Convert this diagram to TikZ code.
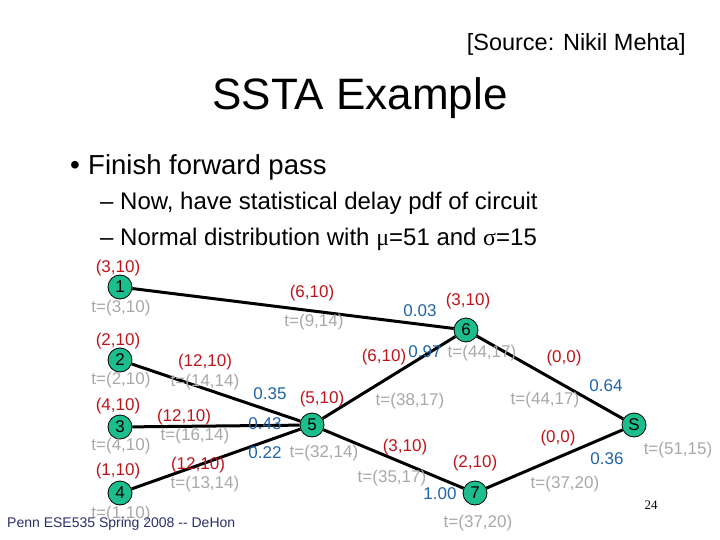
\documentclass[tikz,border=0pt]{standalone}
\usepackage{fontspec}
\setmainfont{Liberation Sans}
\newfontfamily\pagenumfont{Liberation Serif}
\usetikzlibrary{positioning,backgrounds}
\definecolor{sstagreen}{HTML}{1DBE8E}
\definecolor{sstared}{HTML}{C0141C}
\definecolor{sstablue}{HTML}{1F64A8}
\definecolor{sstagray}{HTML}{A8A8A8}
\definecolor{sstanavy}{HTML}{2B2F6B}
\newcommand{\fsz}[1]{\fontsize{#1}{#1}\selectfont}

\begin{document}
\begin{tikzpicture}[
  x=1pt, y=-1pt,
  gate/.style={circle, draw=black, thick, fill=sstagreen, minimum size=24pt,
               inner sep=0pt, font=\fsz{17}},
  delay/.style={text=sstared, font=\fsz{17}, inner sep=0pt},
  arrival/.style={text=sstagray, font=\fsz{17}, inner sep=0pt},
  prob/.style={text=sstablue, font=\fsz{17}, inner sep=0pt},
  wire/.style={line width=3pt, draw=black},
  heading/.style={anchor=base west, inner sep=0pt}
]
\useasboundingbox (0,0) rectangle (720,540);

% slide header
\node[inner sep=0pt, anchor=base east, font=\fsz{23.5}] (source) at (686,51) {[Source: Nikil Mehta]};
\node[inner sep=0pt, anchor=base, font=\fsz{44}] (title) at (360,110) {SSTA Example};
\node[heading, font=\fsz{28}] (bullet) at (70,175) {\textbullet};
\node[heading, font=\fsz{27.5}] (pass) at (88,175) {Finish forward pass};
\node[heading, font=\fsz{24}] (dashA) at (100,210) {–};
\node[heading, font=\fsz{24}] (pdf) at (120,210) {Now, have statistical delay pdf of circuit};
\node[heading, font=\fsz{24}] (dashB) at (100,245) {–};
\node[heading, font=\fsz{24}] (normal) at (120,245) {Normal distribution with {\pagenumfont μ}=51 and {\pagenumfont σ}=15};

% gates
\node[gate] (g1) at (120,287) {1};
\node[gate] (g2) at (120,360) {2};
\node[gate] (g3) at (120,427) {3};
\node[gate] (g4) at (120,493) {4};
\node[gate] (g5) at (312,425) {5};
\node[gate] (g6) at (466,330) {6};
\node[gate] (g7) at (475,493) {7};
\node[gate] (gs) at (634,425) {S};

\begin{pgfonlayer}{background}
\draw[wire] (g1) -- (g6);
\draw[wire] (g2) -- (g5);
\draw[wire] (g3) -- (g5);
\draw[wire] (g4) -- (g5);
\draw[wire] (g5) -- (g6);
\draw[wire] (g5) -- (g7);
\draw[wire] (g6) -- (gs);
\draw[wire] (g7) -- (gs);
\end{pgfonlayer}

% gate delays and arrival times
\node[delay] (d1) at (118,268) {(3,10)};
\node[arrival] (t1) at (121,308) {t=(3,10)};
\node[delay] (d2) at (118,341) {(2,10)};
\node[arrival] (t2) at (121,380) {t=(2,10)};
\node[delay] (d3) at (118,406) {(4,10)};
\node[arrival] (t3) at (121,446) {t=(4,10)};
\node[delay] (d4) at (118,471) {(1,10)};
\node[arrival] (t4) at (121,514) {t=(1,10)};
\node[delay] (d5) at (322,399) {(5,10)};
\node[arrival] (t5) at (324,453) {t=(32,14)};
\node[delay] (d6) at (468,301) {(3,10)};
\node[arrival] (t6) at (482,353) {t=(44,17)};
\node[delay] (d7) at (475,463) {(2,10)};
\node[arrival] (t7) at (478,523) {t=(37,20)};
\node[arrival] (ts) at (678,450) {t=(51,15)};

% wire delays and arrival times
\node[delay] (w16) at (312,293) {(6,10)};
\node[arrival] (a16) at (314,322) {t=(9,14)};
\node[delay] (w25) at (205,362) {(12,10)};
\node[arrival] (a25) at (205,382) {t=(14,14)};
\node[delay] (w35) at (184,417) {(12,10)};
\node[arrival] (a35) at (195,436) {t=(16,14)};
\node[delay] (w45) at (198,465) {(12,10)};
\node[arrival] (a45) at (205,484) {t=(13,14)};
\node[delay] (w56) at (384,357) {(6,10)};
\node[arrival] (a56) at (410,401) {t=(38,17)};
\node[delay] (w57) at (405,447) {(3,10)};
\node[arrival] (a57) at (392,478) {t=(35,17)};
\node[delay] (w6s) at (564,358) {(0,0)};
\node[arrival] (a6s) at (545,400) {t=(44,17)};
\node[delay] (w7s) at (558,438) {(0,0)};
\node[arrival] (a7s) at (565,484) {t=(37,20)};

% max probabilities
\node[prob] (p16) at (420,311) {0.03};
\node[prob] (p56) at (425,352) {0.97};
\node[prob] (p25) at (270,394) {0.35};
\node[prob] (p35) at (265,424) {0.43};
\node[prob] (p45) at (265,453) {0.22};
\node[prob] (p57) at (440,494) {1.00};
\node[prob] (p6s) at (606,386) {0.64};
\node[prob] (p7s) at (607,459) {0.36};

% footer
\node[inner sep=0pt, anchor=base west, text=sstanavy, font=\fsz{14}] (footer) at (7,527) {Penn ESE535 Spring 2008 -{}- DeHon};
\node[inner sep=0pt, font=\pagenumfont\fsz{13}] (page) at (651,505) {24};
\end{tikzpicture}
\end{document}
